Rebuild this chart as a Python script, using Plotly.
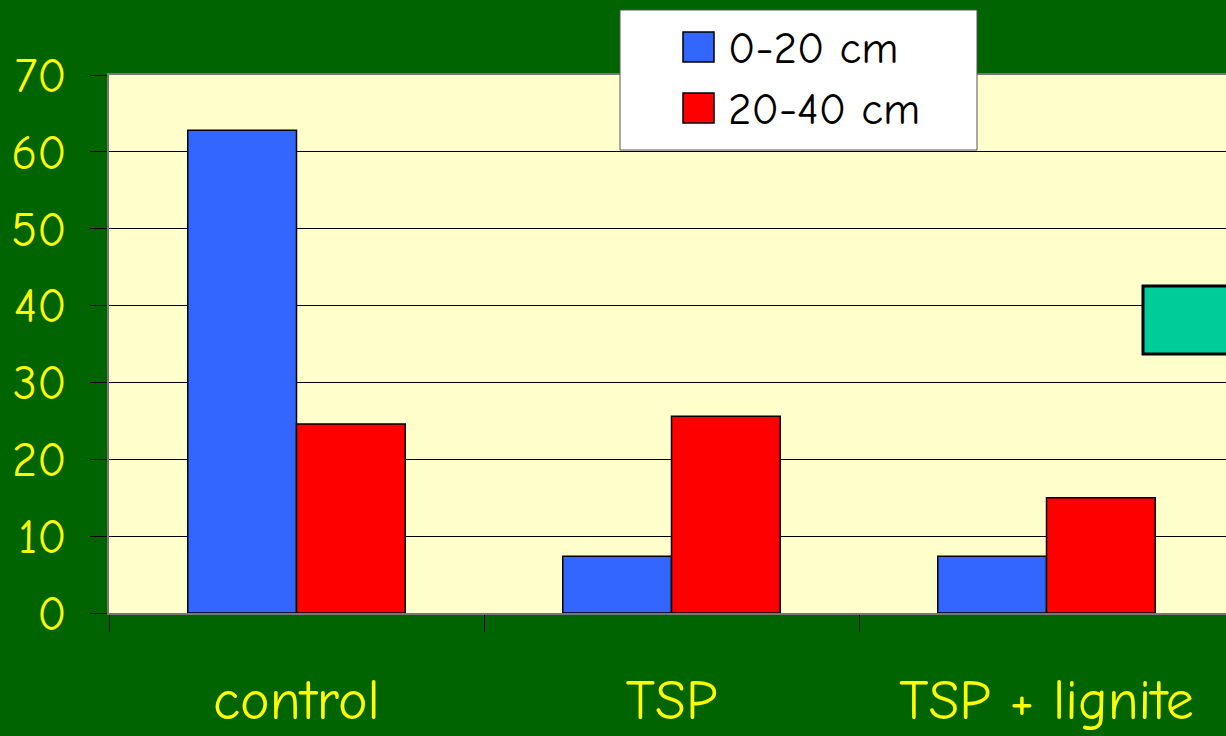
import plotly.graph_objects as go

# Phosphorus data by treatment and soil depth
categories = ["control", "TSP", "TSP + lignite"]
depth_0_20 = [62.8, 7.4, 7.4]
depth_20_40 = [24.6, 25.6, 15.0]
series_names = ["0-20 cm", "20-40 cm"]
series_colors = ["#3366FF", "#FF0000"]
y_ticks = [0, 10, 20, 30, 40, 50, 60, 70]

FONT = "Comic Sans MS, Comic Neue, Lato, sans-serif"
W, H = 1226, 736
ML, MR, MT, MB = 109, 0, 75, 123
PW, PH = W - ML - MR, H - MT - MB


def px(x):
    return (x - ML) / PW


def py(y):
    return (H - MB - y) / PH


fig = go.Figure()
for name, vals, col in zip(series_names, [depth_0_20, depth_20_40], series_colors):
    fig.add_trace(go.Bar(
        x=categories, y=vals, name=name, showlegend=False,
        marker=dict(color=col, line=dict(color="black", width=1.5)),
    ))

shapes = []
annotations = []

# Legend panel
shapes.append(dict(type="rect", xref="paper", yref="paper",
                   x0=px(620), x1=px(977), y0=py(150), y1=py(10),
                   fillcolor="white", line=dict(color="#555555", width=1), layer="above"))
for i, (name, col) in enumerate(zip(series_names, series_colors)):
    cy = 47 + i * 61
    shapes.append(dict(type="rect", xref="paper", yref="paper",
                       x0=px(683), x1=px(714), y0=py(cy + 15), y1=py(cy - 15),
                       fillcolor=col, line=dict(color="black", width=1.5), layer="above"))
    annotations.append(dict(xref="paper", yref="paper", x=px(726), y=py(cy + 1),
                            xanchor="left", yanchor="middle", text=name, showarrow=False,
                            font=dict(family=FONT, size=45, color="black")))

# Teal text box at the right edge
shapes.append(dict(type="rect", xref="paper", yref="paper",
                   x0=px(1143), x1=px(1240), y0=py(354), y1=py(286),
                   fillcolor="#00CC99", line=dict(color="black", width=3), layer="above"))

fig.update_layout(
    width=W, height=H,
    margin=dict(l=ML, r=MR, t=MT, b=MB, autoexpand=False),
    paper_bgcolor="#006400",
    plot_bgcolor="#FFFFCC",
    barmode="group", bargap=0.42, bargroupgap=0,
    shapes=shapes, annotations=annotations,
    showlegend=False,
    xaxis=dict(
        type="category", range=[-0.5, -0.5 + PW / 375], automargin=False,
        showgrid=False, showline=True, linecolor="#777777", linewidth=2, mirror=True,
        ticks="outside", tickson="boundaries", ticklen=17, tickcolor="black", tickwidth=1,
        tickfont=dict(family=FONT, size=56, color="#FFFF00"),
        ticklabelstandoff=37,
    ),
    yaxis=dict(
        range=[0, 70], tickvals=y_ticks, automargin=False,
        showgrid=True, gridcolor="black", gridwidth=1,
        showline=True, linecolor="#777777", linewidth=2, mirror=True,
        ticks="outside", ticklen=17, tickcolor="black", tickwidth=1,
        tickfont=dict(family=FONT, size=48, color="#FFFF00"),
        ticklabelstandoff=14, zeroline=False,
    ),
)

fig.write_html("out.html")
